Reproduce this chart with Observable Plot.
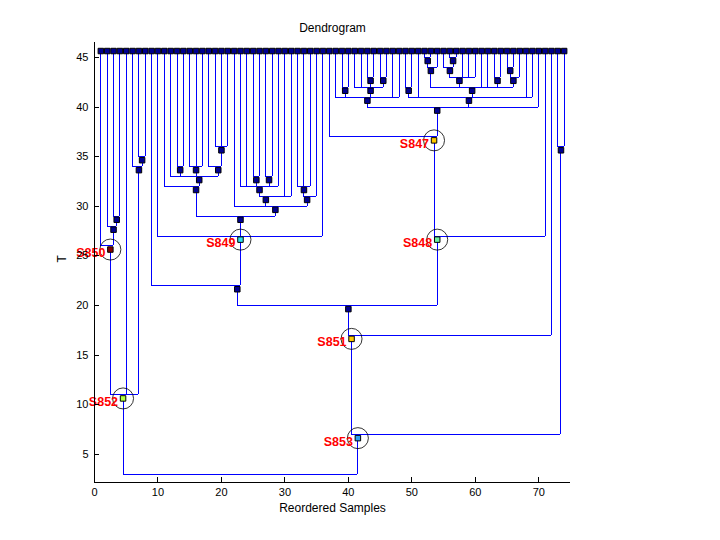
<!DOCTYPE html>
<html><head><meta charset="utf-8">
<script src="https://cdn.jsdelivr.net/npm/d3@7"></script>
<script src="https://cdn.jsdelivr.net/npm/@observablehq/plot@0.6"></script>
<style>body{margin:0;background:#fff} svg{display:block}</style>
</head><body><div id="chart"></div>
<script>
// ---- data: tree structure (internal nodes) ----
const nodeNames   = ["root","S852","S850","n234","n34","n678","n78","S853","n7374","S851","M","N22","S849","L","n11_21","n12_21","A","B","C","D","K","E","G","H","I","F","J","S848","S847","P","Q","S1","T1","U","V","R","n4950","W","X2","X1","N55_60","N55_57","N5657","N6364","N65_67","N6566"];
const nodeParents = [null,"root","S852","S850","n234","S852","n678","root","S853","S853","S851","M","N22","S849","L","n11_21","n12_21","n12_21","n12_21","C","L","K","E","G","G","K","F","M","S848","S847","P","Q","Q","T1","T1","P","R","R","W","X2","W","N55_60","N55_57","W","W","N65_67"];
const nodeHeights = [3,11,26,28,29,34,35,7,36,17,20,22,27,29,32,33,34,34,34,36,30,31,32,33,33,31,32,27,37,40,41,42,42,43,43,41,42,42,44,45,43,44,45,43,43,44];
// parent of each reordered sample 1..74
const leafParents = ["S850","n234","n34","n34","S852","n678","n78","n78","N22","S849",
  "n11_21","n12_21","A","A","B","B","B","C","D","D",
  "D","K","G","G","H","H","I","I","G","E",
  "E","J","J","J","F","S849","S847","Q","S1","S1",
  "T1","T1","U","U","V","V","Q","Q","n4950","n4950",
  "R","X1","X1","X2","N55_57","N5657","N5657","N55_60","N55_60","N55_60",
  "W","W","N6364","N6364","N6566","N6566","N65_67","R","R","P",
  "S848","S851","n7374","n7374"];
const leafHeight = 46;
const labeledNodes  = ["S847","S848","S849","S850","S851","S852","S853"];
const labeledColors = ["#FFC800","#6EF0A0","#30E0F0","#800000","#FFC800","#B0FF40","#2CA0F0"];
const plainColor = "#000090";
const xTicks = [0,10,20,30,40,50,60,70];
const yTicks = [5,10,15,20,25,30,35,40,45];
const xDomain = [0, 75];
const yDomain = [2.17, 46.5];
const squareDrop = 0.36;

// ---- build tree ----
const nodes = new Map();
nodeNames.forEach((name,i)=>nodes.set(name,{name,parent:nodeParents[i],t:nodeHeights[i],children:[],leaves:[]}));
leafParents.forEach((p,i)=>nodes.set("leaf"+(i+1),{name:"leaf"+(i+1),parent:p,t:leafHeight,children:[],leaves:[i+1],leaf:true}));
for (const n of nodes.values()) if (n.parent) nodes.get(n.parent).children.push(n);
function collect(n){ if (n.leaf) return n.leaves; n.leaves = n.children.flatMap(collect); return n.leaves; }
collect(nodes.get("root"));
for (const n of nodes.values()) n.x = d3.mean(n.leaves);

const verticals = [], horizontals = [], squares = [];
for (const n of nodes.values()) {
  if (n.parent) {
    const p = nodes.get(n.parent);
    verticals.push({x:n.x, y1:n.t - squareDrop, y2:p.t});
    const li = labeledNodes.indexOf(n.name);
    squares.push({x:n.x, y:n.t - squareDrop, fill: li >= 0 ? labeledColors[li] : plainColor, order: li >= 0 ? 1 : 0});
  }
  if (!n.leaf) {
    horizontals.push({y:n.t, x1:d3.min(n.children, c=>c.x), x2:d3.max(n.children, c=>c.x)});
  }
}
squares.sort((a,b)=>a.order-b.order);
const labeled = labeledNodes.map(name => {const n = nodes.get(name); return {name, x:n.x, y:n.t - squareDrop};});

const crisp = {shapeRendering: "crispEdges"};
const chart = Plot.plot({
  width: 720, height: 540,
  marginLeft: 94, marginRight: 150, marginTop: 42, marginBottom: 58,
  style: {fontFamily: "'Liberation Sans', Arial, sans-serif", fontSize: "11px", background: "white", overflow: "visible"},
  x: {domain: xDomain, axis: null},
  y: {domain: yDomain, axis: null},
  marks: [
    Plot.ruleX(verticals, {x:"x", y1:"y1", y2:"y2", stroke:"#0000FF", strokeWidth:1, ...crisp}),
    Plot.ruleY(horizontals, {y:"y", x1:"x1", x2:"x2", stroke:"#0000FF", strokeWidth:1, ...crisp}),
    Plot.dot(labeled, {x:"x", y:"y", r:10.5, stroke:"black", strokeWidth:0.8, fill:"none"}),
    Plot.dot(squares, {x:"x", y:"y", symbol:"square", r:3.1, fill:"fill", stroke:"black", strokeWidth:1}),
    Plot.text(labeled, {x:"x", y:"y", text:"name", textAnchor:"end", dx:-5, dy:3.5, fill:"#FF0000", fontWeight:"bold", fontSize:12.5}),
    // axes
    Plot.ruleX([xDomain[0]], {stroke:"black", ...crisp}),
    Plot.ruleY([yDomain[0]], {stroke:"black", ...crisp}),
    Plot.ruleX(xTicks, {x:d=>d, y1:yDomain[0], y2:yDomain[0]+0.5, stroke:"black", ...crisp}),
    Plot.ruleY(yTicks, {y:d=>d, x1:xDomain[0], x2:xDomain[0]+0.79, stroke:"black", ...crisp}),
    Plot.text(xTicks, {x:d=>d, y:yDomain[0], text:d=>String(d), dy:10, fill:"black", fontSize:11}),
    Plot.text(yTicks, {x:xDomain[0], y:d=>d, text:d=>String(d), textAnchor:"end", dx:-6, fill:"black", fontSize:11}),
    Plot.text(["Dendrogram"], {frameAnchor:"top", dy:-19, fill:"black", fontSize:12}),
    Plot.text(["Reordered Samples"], {frameAnchor:"bottom", dy:29, fill:"black", fontSize:12}),
    Plot.text(["T"], {frameAnchor:"left", dx:-32, rotate:-90, fill:"black", fontSize:12})
  ]
});
document.getElementById("chart").appendChild(chart);
</script>
</body></html>
